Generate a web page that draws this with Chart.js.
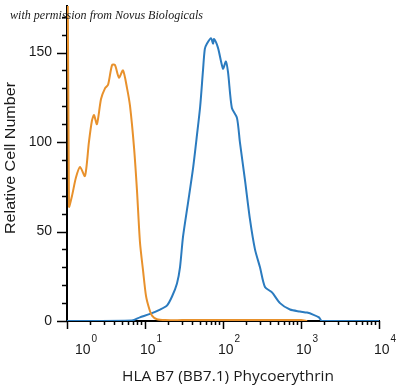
<!DOCTYPE html>
<html>
<head>
<title>HLA B7 Phycoerythrin histogram</title>
<script src="https://cdn.jsdelivr.net/npm/chart.js"></script>
<style>
  body { margin: 0; background: #fff; }
</style>
</head>
<body>
<canvas id="histChart" width="400" height="390"></canvas>
<script>
// isotype control (orange)
var isoX = [1.0, 1.06, 1.16, 1.30, 1.47, 1.70, 1.91, 2.09, 2.22, 2.42, 2.73, 3.07, 3.36, 3.78, 4.12, 4.64, 5.22, 5.89, 6.43, 7.23, 7.89, 8.62, 9.45, 10.3, 11.3, 12.3, 14.2, 18.0, 30, 100, 1000, 1200];
var isoY = [300, 64, 70, 80, 86, 81, 100, 112, 115, 110, 124, 130, 132, 143, 143, 136, 140, 130, 120, 97, 73, 44, 28, 14, 7, 3, 1, 0.5, 0.5, 0.5, 0.5, 0];

// HLA B7 stained (blue)
var b7X = [1, 6.8, 8.6, 11.6, 15.6, 19.1, 22.2, 25.7, 28.1, 30.7, 35.6, 41.2, 46.4, 51.0, 55.4, 58.5, 62.4, 70.2, 74.5, 76.7, 86.3, 100, 109, 116, 130, 151, 165, 191, 222, 257, 298, 345, 425, 538, 722, 971, 1194, 1426, 1701, 1858, 10000];
var b7Y = [0, 0.3, 2, 4, 6.4, 8.6, 13.7, 21, 30, 47, 66, 85, 104, 120, 140, 152, 155, 158, 155, 157.5, 152.6, 141, 145, 139, 119, 113.5, 99.6, 79, 56.6, 40, 30, 19, 16, 10, 6.4, 5.3, 4.7, 3.6, 2, 0, 0];

var yTicks = [0, 50, 100, 150];
var yMinorStep = 10;
var xDecades = [1, 10, 100, 1000, 10000];
var xExponents = ['0', '1', '2', '3', '4'];

function toPoints(xs, ys) {
    var pts = [];
    for (var i = 0; i < xs.length; i++) pts.push({ x: xs[i], y: ys[i] });
    return pts;
}

// draw text squeezed/stretched to a target width
function fitText(ctx, str, x, y, font, target, align) {
    ctx.save();
    ctx.font = font;
    var w = ctx.measureText(str).width;
    var sx = target / w;
    ctx.translate(x, y);
    ctx.scale(sx, 1);
    ctx.textAlign = align || 'left';
    ctx.fillText(str, 0, 0);
    ctx.restore();
}

var axisDecor = {
    id: 'axisDecor',
    afterDraw: function (chart) {
        var ctx = chart.ctx;
        var xs = chart.scales.x, ys = chart.scales.y;
        var left = chart.chartArea.left, bottom = chart.chartArea.bottom;
        ctx.save();
        ctx.strokeStyle = '#000';
        ctx.fillStyle = '#1a1a1a';
        ctx.lineWidth = 1.5;

        // y ticks
        for (var v = 0; v <= ys.max; v += yMinorStep) {
            var py = Math.round(ys.getPixelForValue(v)) + 0.5;
            var major = yTicks.indexOf(v) >= 0;
            ctx.beginPath();
            ctx.moveTo(left - (major ? 10 : 5), py);
            ctx.lineTo(left, py);
            ctx.stroke();
        }
        ctx.font = '14px "Liberation Sans", Arial, sans-serif';
        ctx.textAlign = 'right';
        ctx.textBaseline = 'middle';
        yTicks.forEach(function (t) {
            ctx.fillText(String(t), 52, ys.getPixelForValue(t));
        });

        // x ticks
        for (var d = 0; d < xDecades.length; d++) {
            var px = Math.round(xs.getPixelForValue(xDecades[d])) + 0.5;
            ctx.beginPath();
            ctx.moveTo(px, bottom);
            ctx.lineTo(px, bottom + 8);
            ctx.stroke();
            if (d < xDecades.length - 1) {
                for (var m = 2; m <= 9; m++) {
                    var mx = Math.round(xs.getPixelForValue(xDecades[d] * m)) + 0.5;
                    ctx.beginPath();
                    ctx.moveTo(mx, bottom);
                    ctx.lineTo(mx, bottom + 4);
                    ctx.stroke();
                }
            }
        }
        ctx.textAlign = 'left';
        ctx.textBaseline = 'alphabetic';
        for (var k = 0; k < xDecades.length; k++) {
            var tx = xs.getPixelForValue(xDecades[k]) - 5;
            if (tx < left + 8) tx = left + 8;
            ctx.font = '14px "Liberation Sans", Arial, sans-serif';
            ctx.fillText('10', tx, 354);
            var w = ctx.measureText('10').width;
            ctx.font = '10px "Liberation Sans", Arial, sans-serif';
            ctx.fillText(xExponents[k], tx + w + 1, 342);
        }

        // axis titles
        ctx.textBaseline = 'middle';
        fitText(ctx, 'HLA B7 (BB7.1) Phycoerythrin', 228, 377, '15px "Open Sans", sans-serif', 212, 'center');
        ctx.save();
        ctx.translate(11, 158);
        ctx.rotate(-Math.PI / 2);
        fitText(ctx, 'Relative Cell Number', 0, 0, '15px "Liberation Sans", Arial, sans-serif', 152, 'center');
        ctx.restore();

        // credit line
        ctx.textBaseline = 'alphabetic';
        fitText(ctx, 'with permission from Novus Biologicals', 10, 19, 'italic 13px "Liberation Serif", serif', 193, 'left');
        ctx.restore();
    }
};

new Chart(document.getElementById('histChart'), {
    type: 'line',
    data: {
        datasets: [
            {
                label: 'Isotype control',
                data: toPoints(isoX, isoY),
                borderColor: '#e8912c',
                borderWidth: 2,
                pointRadius: 0,
                tension: 0.25
            },
            {
                label: 'HLA B7',
                data: toPoints(b7X, b7Y),
                borderColor: '#2b7bbf',
                borderWidth: 2,
                pointRadius: 0,
                tension: 0.25
            }
        ]
    },
    options: {
        responsive: false,
        animation: false,
        devicePixelRatio: 1,
        layout: { padding: { left: 67, right: 21, top: 6, bottom: 69 } },
        plugins: { legend: { display: false }, tooltip: { enabled: false } },
        scales: {
            x: {
                type: 'logarithmic',
                min: 1,
                max: 10000,
                ticks: { display: false },
                grid: { display: true, drawOnChartArea: false, drawTicks: false },
                border: { color: '#000', width: 2 }
            },
            y: {
                type: 'linear',
                min: 0,
                max: 176,
                ticks: { display: false },
                grid: { display: true, drawOnChartArea: false, drawTicks: false },
                border: { color: '#000', width: 2 }
            }
        }
    },
    plugins: [axisDecor]
});
</script>
</body>
</html>
